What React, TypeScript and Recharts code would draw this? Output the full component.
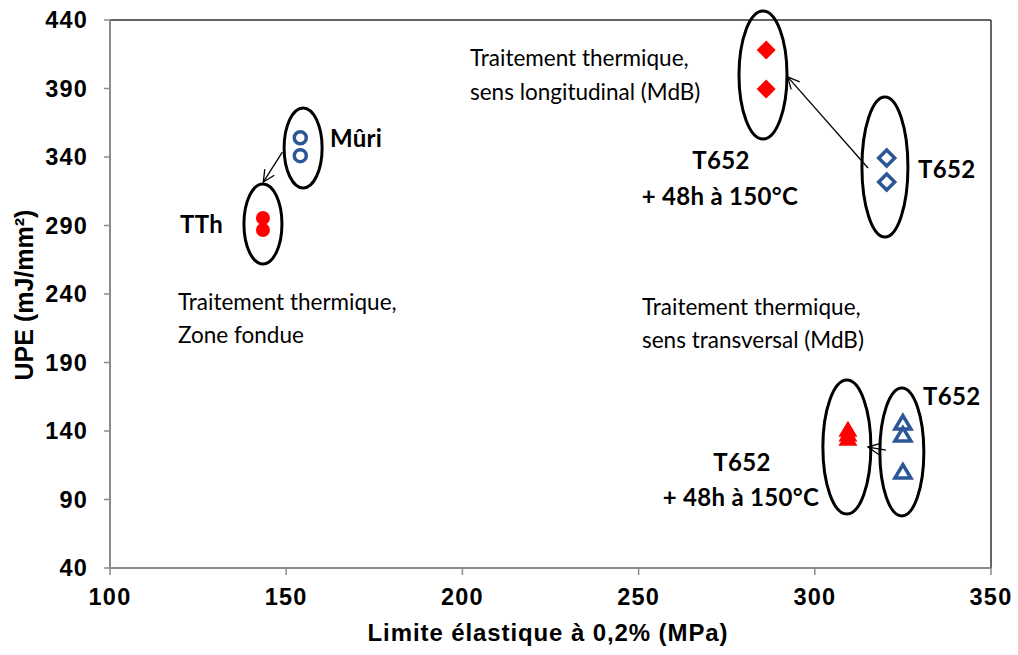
import React from 'react';
import { ScatterChart, Scatter, XAxis, YAxis, ReferenceLine } from 'recharts';

const X_TICKS = [100, 150, 200, 250, 300, 350];
const Y_TICKS = [40, 90, 140, 190, 240, 290, 340, 390, 440];

// points (yield strength MPa, UPE mJ/mm2)
const MURI = [{ x: 154, y: 354 }, { x: 154, y: 341 }];
const TTH = [{ x: 143.4, y: 295.5 }, { x: 143.4, y: 286.7 }];
const T652_LONG = [{ x: 320.4, y: 339.3 }, { x: 320.4, y: 321.8 }];
const T652_150_LONG = [{ x: 286.2, y: 418.1 }, { x: 286.2, y: 389.6 }];
const T652_TRANS = [{ x: 325, y: 145.8 }, { x: 325, y: 137 }, { x: 325, y: 110 }];
const T652_150_TRANS = [{ x: 309.4, y: 141 }, { x: 309.4, y: 137.5 }, { x: 309.4, y: 134.3 }];

// group outlines (centres in data units)
const GROUPS = [
  { name: 'muri', x: 154.8, y: 346.6 },
  { name: 'tth', x: 143.4, y: 291.1 },
  { name: 'long150', x: 285.3, y: 399.9 },
  { name: 'long', x: 319.9, y: 332.7 },
  { name: 'trans150', x: 309.1, y: 128.3 },
  { name: 'trans', x: 324.7, y: 124.7 },
];
const GROUP_RADII: Record<string, [number, number]> = {
  muri: [19, 40], tth: [19, 40], long150: [24, 64], long: [23, 70], trans150: [24, 67], trans: [22, 64],
};

const ARROWS = [
  [{ x: 148.9, y: 343.6 }, { x: 143.5, y: 321.7 }],
  [{ x: 315.1, y: 332.0 }, { x: 292.3, y: 398.5 }],
  [{ x: 320.2, y: 126.1 }, { x: 315.1, y: 128.3 }],
];

const BLUE = '#2B5797';
const RED = '#FF0000';
const AXIS_GRAY = '#8C8C8C';
const AXIS_FONT = '"Liberation Sans", Arial, sans-serif';
const NOTE_FONT = 'Lato, "Open Sans", sans-serif';

const openCircle = (p: any) => <circle cx={p.cx} cy={p.cy} r={6} fill="none" stroke={BLUE} strokeWidth={3.5} />;
const dot = (p: any) => <circle cx={p.cx} cy={p.cy} r={7} fill={RED} />;
const diamond = (p: any) => (
  <path d={`M${p.cx},${p.cy - 9.5}L${p.cx + 9.5},${p.cy}L${p.cx},${p.cy + 9.5}L${p.cx - 9.5},${p.cy}Z`} fill={RED} />
);
const openDiamond = (p: any) => (
  <path d={`M${p.cx},${p.cy - 8}L${p.cx + 8},${p.cy}L${p.cx},${p.cy + 8}L${p.cx - 8},${p.cy}Z`} fill="none" stroke={BLUE} strokeWidth={3.5} />
);
const triangle = (p: any) => (
  <path d={`M${p.cx},${p.cy - 9}L${p.cx + 9.5},${p.cy + 7}L${p.cx - 9.5},${p.cy + 7}Z`} fill={RED} />
);
const openTriangle = (p: any) => (
  <path d={`M${p.cx},${p.cy - 7.5}L${p.cx + 8},${p.cy + 6}L${p.cx - 8},${p.cy + 6}Z`} fill="none" stroke={BLUE} strokeWidth={3.5} />
);
const outline = (p: any) => {
  const [rx, ry] = GROUP_RADII[p.payload.name];
  return <ellipse cx={p.cx} cy={p.cy} rx={rx} ry={ry} fill="none" stroke="#000" strokeWidth={3} />;
};

const arrowLine = (p: any) => {
  const { x1, y1, x2, y2 } = p;
  const a = Math.atan2(y2 - y1, x2 - x1);
  const L = 13, w = 0.45;
  const h1 = [x2 - L * Math.cos(a - w), y2 - L * Math.sin(a - w)];
  const h2 = [x2 - L * Math.cos(a + w), y2 - L * Math.sin(a + w)];
  return (
    <g>
      <line x1={x1} y1={y1} x2={x2} y2={y2} stroke="#000" strokeWidth={1.3} />
      <polyline points={`${h1[0]},${h1[1]} ${x2},${y2} ${h2[0]},${h2[1]}`} fill="none" stroke="#000" strokeWidth={1.3} />
    </g>
  );
};

const Note = ({ x, y, children, bold, anchor }: any) => (
  <text x={x} y={y} fontFamily={NOTE_FONT} fontSize={bold ? 24 : 22.5} fontWeight={bold ? 700 : 400} fill="#000"
    textAnchor={anchor || 'start'} letterSpacing={bold ? 0.3 : 0}>
    {children}
  </text>
);

export default function App() {
  return (
    <div style={{ position: 'absolute', left: 0, top: 0, width: 1018, height: 655, background: '#fff' }}>
      <ScatterChart width={1018} height={655} margin={{ top: 20, right: 27, left: 0, bottom: 0 }}>
        <XAxis
          type="number" dataKey="x" domain={[100, 350]} ticks={X_TICKS} height={87}
          axisLine={{ stroke: AXIS_GRAY, strokeWidth: 2 }} tickLine={{ stroke: AXIS_GRAY, strokeWidth: 1.5 }}
          tickSize={7} tickMargin={13}
          tick={{ fontFamily: AXIS_FONT, fontSize: 23.5, fontWeight: 700, fill: '#000', letterSpacing: 1.2 }}
          label={{ content: () => (
            <text x={548} y={641} textAnchor="middle" fontFamily={AXIS_FONT} fontSize={24} fontWeight={700} fill="#000" letterSpacing={0.9}>
              Limite élastique à 0,2% (MPa)
            </text>
          ) }}
        />
        <YAxis
          type="number" dataKey="y" domain={[40, 440]} ticks={Y_TICKS} width={110}
          axisLine={{ stroke: AXIS_GRAY, strokeWidth: 2 }} tickLine={{ stroke: AXIS_GRAY, strokeWidth: 1.5 }}
          tickSize={6} tickMargin={16}
          tick={{ fontFamily: AXIS_FONT, fontSize: 23.5, fontWeight: 700, fill: '#000', letterSpacing: 1.2 }}
          label={{ content: () => (
            <text x={33} y={295} transform="rotate(-90 33 295)" textAnchor="middle" fontFamily={AXIS_FONT} fontSize={25} fontWeight={700} fill="#000">
              UPE (mJ/mm²)
            </text>
          ) }}
        />
        <ReferenceLine y={440} stroke="#333" strokeWidth={1.5} />
        <ReferenceLine x={350} stroke="#333" strokeWidth={1.5} />
        <Scatter data={GROUPS} shape={outline} isAnimationActive={false} />
        <Scatter data={MURI} shape={openCircle} isAnimationActive={false} />
        <Scatter data={TTH} shape={dot} isAnimationActive={false} />
        <Scatter data={T652_150_LONG} shape={diamond} isAnimationActive={false} />
        <Scatter data={T652_LONG} shape={openDiamond} isAnimationActive={false} />
        <Scatter data={T652_150_TRANS} shape={triangle} isAnimationActive={false} />
        <Scatter data={T652_TRANS} shape={openTriangle} isAnimationActive={false} />
        {ARROWS.map((seg, i) => (
          <ReferenceLine key={i} segment={seg} shape={arrowLine} ifOverflow="visible" />
        ))}
      </ScatterChart>
      <svg width={1018} height={655} style={{ position: 'absolute', left: 0, top: 0, pointerEvents: 'none' }}>
        <Note x={330} y={147} bold>Mûri</Note>
        <Note x={180} y={233} bold>TTh</Note>
        <Note x={178} y={310}>Traitement thermique,</Note>
        <Note x={178} y={343}>Zone fondue</Note>
        <Note x={470} y={66}>Traitement thermique,</Note>
        <Note x={470} y={100}>sens longitudinal (MdB)</Note>
        <Note x={721} y={169} bold anchor="middle">T652</Note>
        <Note x={720} y={205} bold anchor="middle">+ 48h à 150°C</Note>
        <Note x={918} y={178} bold>T652</Note>
        <Note x={642} y={315}>Traitement thermique,</Note>
        <Note x={642} y={348}>sens transversal (MdB)</Note>
        <Note x={923} y={405} bold>T652</Note>
        <Note x={742} y={471} bold anchor="middle">T652</Note>
        <Note x={741} y={506} bold anchor="middle">+ 48h à 150°C</Note>
      </svg>
    </div>
  );
}
